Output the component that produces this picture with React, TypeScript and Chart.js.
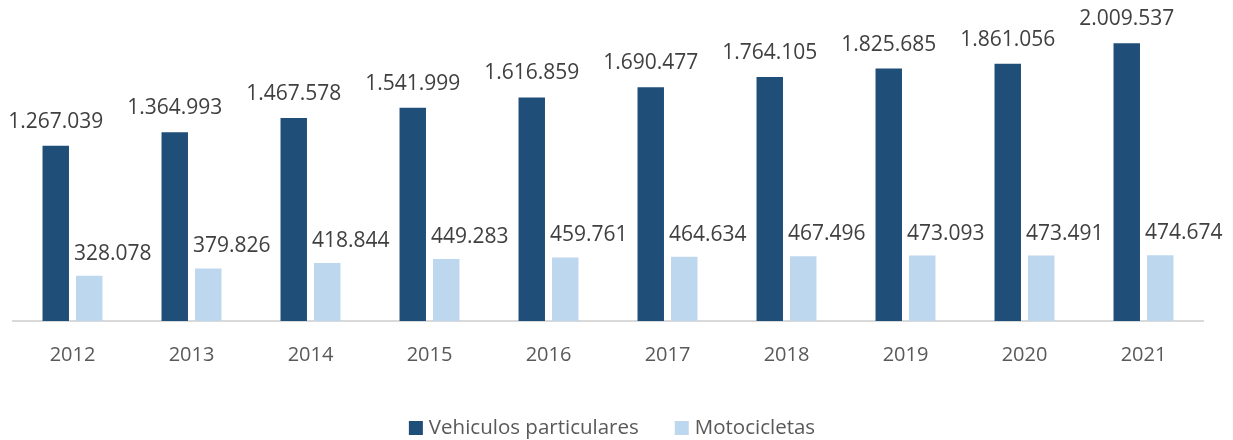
import React, { useEffect, useRef } from "react";
import { Chart, registerables } from "chart.js";

Chart.register(...registerables);

const years = ["2012", "2013", "2014", "2015", "2016", "2017", "2018", "2019", "2020", "2021"];
const vehiculos = [1267039, 1364993, 1467578, 1541999, 1616859, 1690477, 1764105, 1825685, 1861056, 2009537];
const motos = [328078, 379826, 418844, 449283, 459761, 464634, 467496, 473093, 473491, 474674];
const seriesNames = ["Vehiculos particulares", "Motocicletas"];
const seriesColors = ["#1F4E79", "#BDD7EE"];

const FONT = "'Open Sans', sans-serif";

function fmt(v: number): string {
  return String(v).replace(/\B(?=(\d{3})+(?!\d))/g, ".");
}

const valueLabels = {
  id: "valueLabels",
  afterDatasetsDraw(chart: any) {
    const ctx = chart.ctx;
    ctx.save();
    ctx.font = `21px ${FONT}`;
    ctx.fillStyle = "#404040";
    ctx.textBaseline = "alphabetic";
    chart.data.datasets.forEach((ds: any, di: number) => {
      const meta = chart.getDatasetMeta(di);
      meta.data.forEach((bar: any, i: number) => {
        const txt = fmt(ds.data[i]);
        if (di === 0) {
          ctx.textAlign = "center";
          ctx.fillText(txt, bar.x, bar.y - 18);
        } else {
          ctx.textAlign = "left";
          ctx.fillText(txt, bar.x - bar.width / 2 - 2, bar.y - 16);
        }
      });
    });
    ctx.restore();
  },
};

const customLegend = {
  id: "customLegend",
  afterDraw(chart: any) {
    const ctx = chart.ctx;
    ctx.save();
    ctx.font = `20.5px ${FONT}`;
    const box = 14;
    const gapBoxText = 6;
    const gapItems = 36;
    const widths = seriesNames.map((n) => ctx.measureText(n).width);
    const total = box + gapBoxText + widths[0] + gapItems + box + gapBoxText + widths[1];
    let x = 612 - total / 2;
    const cy = 428;
    ctx.textBaseline = "middle";
    ctx.textAlign = "left";
    seriesNames.forEach((n, i) => {
      ctx.fillStyle = seriesColors[i];
      ctx.fillRect(x, cy - box / 2, box, box);
      x += box + gapBoxText;
      ctx.fillStyle = "#595959";
      ctx.fillText(n, x, cy);
      x += widths[i] + gapItems;
    });
    ctx.restore();
  },
};

export default function App() {
  const ref = useRef<HTMLCanvasElement | null>(null);
  useEffect(() => {
    if (!ref.current) return;
    const chart = new Chart(ref.current, {
      type: "bar",
      data: {
        labels: years,
        datasets: [
          {
            label: seriesNames[0],
            data: vehiculos,
            backgroundColor: seriesColors[0],
            categoryPercentage: 0.563,
            barPercentage: 0.79,
          },
          {
            label: seriesNames[1],
            data: motos,
            backgroundColor: seriesColors[1],
            categoryPercentage: 0.563,
            barPercentage: 0.79,
          },
        ],
      },
      options: {
        animation: false,
        responsive: false,
        maintainAspectRatio: false,
        layout: { padding: { left: 13, right: 30, top: 3, bottom: 51 } },
        plugins: {
          legend: { display: false },
          tooltip: { enabled: false },
        },
        scales: {
          x: {
            grid: { display: false, drawTicks: false },
            border: { display: true, color: "#D9D9D9", width: 2 },
            ticks: {
              color: "#595959",
              font: { family: FONT, size: 20 },
              padding: 22,
            },
          },
          y: {
            display: false,
            min: 0,
            max: 2300000,
          },
        },
      },
      plugins: [valueLabels, customLegend],
    });
    return () => chart.destroy();
  }, []);
  return (
    <div style={{ position: "fixed", left: 0, top: 0, width: 1233, height: 440, background: "#fff" }}>
      <canvas ref={ref} width={1233} height={440} style={{ width: 1233, height: 440 }} />
    </div>
  );
}
